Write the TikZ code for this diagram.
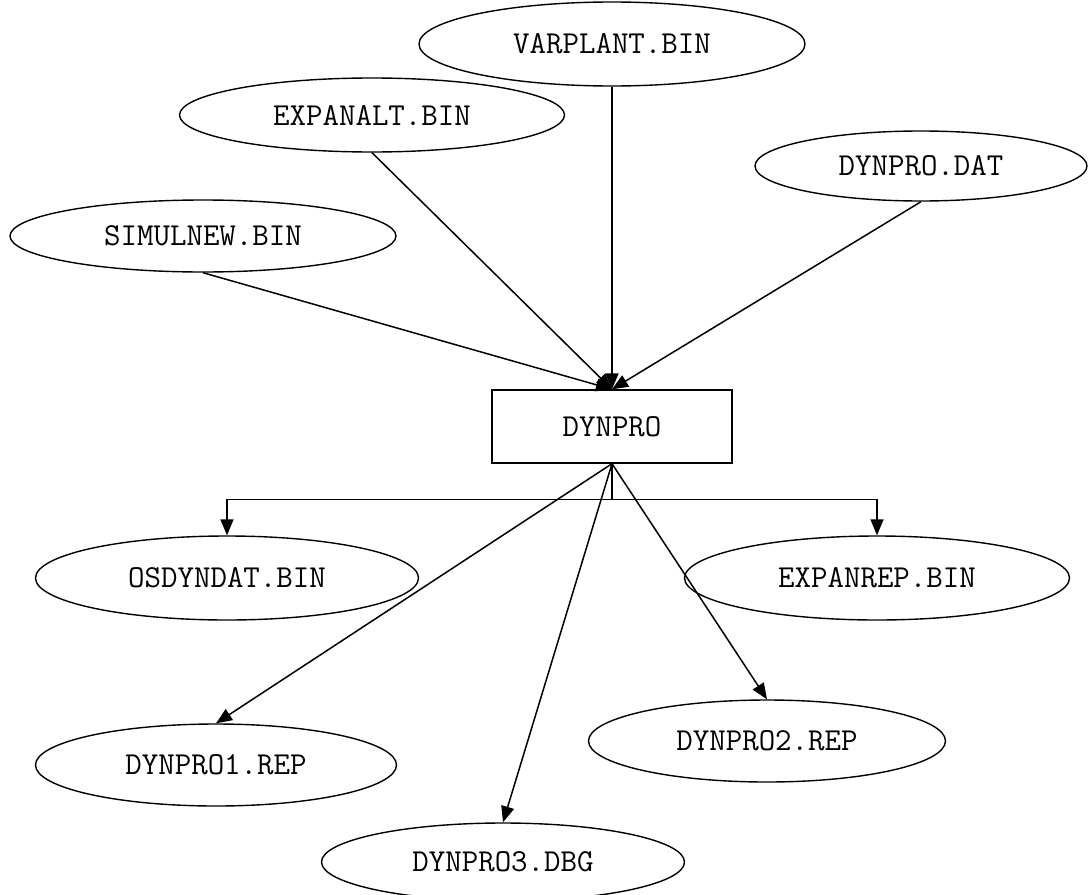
\documentclass[tikz,border=0pt]{standalone}
\usetikzlibrary{shapes.geometric,arrows.meta}
\begin{document}
\begin{tikzpicture}[x=1pt,y=-1pt,
  lbl/.style={font=\fontsize{32}{38}\selectfont\ttfamily},
  file/.style={ellipse,draw,line width=1.4pt,inner sep=0pt,lbl},
  prog/.style={rectangle,draw,line width=1.4pt,inner sep=0pt,lbl,minimum width=240pt,minimum height=73pt},
  flow/.style={draw,line width=1.5pt,-{Triangle[length=16pt,width=13pt]}}]
\useasboundingbox[fill=white] (0,0) rectangle (1089,894);

% input files
\node[file,minimum width=386pt,minimum height=84pt] (varplant) at (612,44) {VARPLANT.BIN};
\node[file,minimum width=385pt,minimum height=74pt] (expanalt) at (372,115) {EXPANALT.BIN};
\node[file,minimum width=332pt,minimum height=70pt] (dynprodat) at (921,166) {DYNPRO.DAT};
\node[file,minimum width=386pt,minimum height=72pt] (simulnew) at (203,236) {SIMULNEW.BIN};

% program
\node[prog] (dynpro) at (612,426.5) {DYNPRO};

% output files
\node[file,minimum width=383pt,minimum height=84pt] (osdyndat) at (227,578) {OSDYNDAT.BIN};
\node[file,minimum width=385pt,minimum height=84pt] (expanrep) at (877,578) {EXPANREP.BIN};
\node[file,minimum width=357pt,minimum height=82pt] (dynpro2) at (767,741) {DYNPRO2.REP};
\node[file,minimum width=361pt,minimum height=82pt] (dynpro1) at (216,765) {DYNPRO1.REP};
\node[file,minimum width=363pt,minimum height=78pt] (dynpro3) at (503,862) {DYNPRO3.DBG};

% inputs into the program
\draw[flow] (simulnew.south) -- (dynpro.north);
\draw[flow] (expanalt.south) -- (dynpro.north);
\draw[flow] (varplant.south) -- (dynpro.north);
\draw[flow] (dynprodat.south) -- (dynpro.north);

% program outputs
\draw[flow] (dynpro.south) -- ++(0,36) -| (osdyndat.north);
\draw[flow] (dynpro.south) -- ++(0,36) -| (expanrep.north);
\draw[flow] (dynpro.south) -- (dynpro1.north);
\draw[flow] (dynpro.south) -- (dynpro3.north);
\draw[flow] (dynpro.south) -- (dynpro2.north);
\end{tikzpicture}
\end{document}
